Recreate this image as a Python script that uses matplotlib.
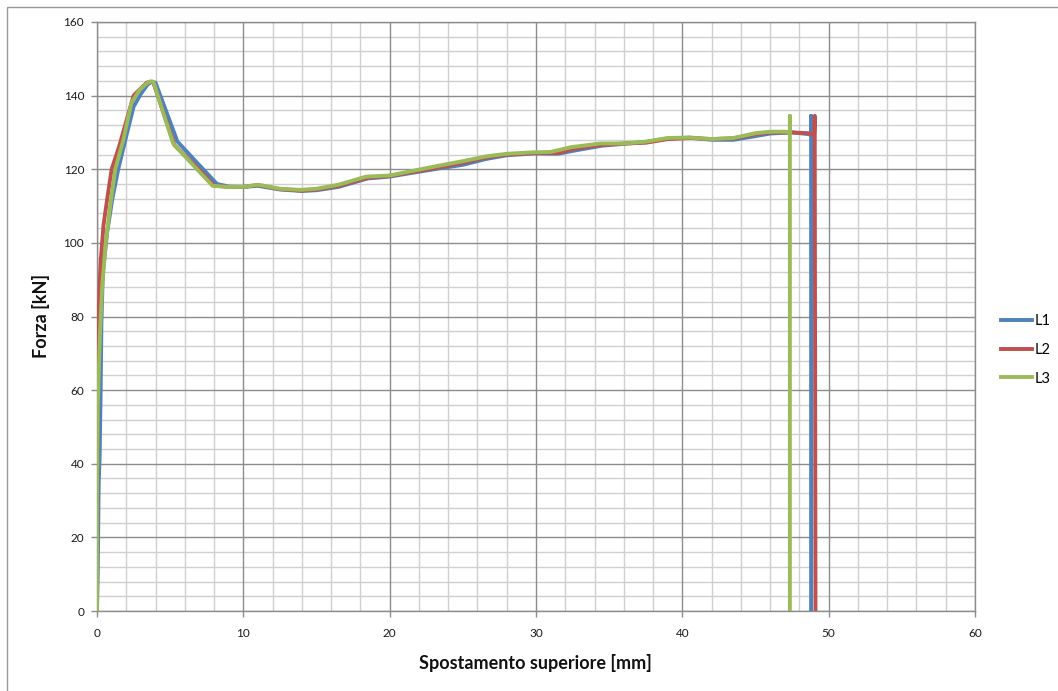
import matplotlib
matplotlib.use("Agg")
import matplotlib.pyplot as plt
from matplotlib.patches import Rectangle
from matplotlib.lines import Line2D

plt.rcParams['font.family'] = ['Lato', 'DejaVu Sans']

# Displacement [mm] / force [kN] curves
l1_x = [0, 0.05, 0.1, 0.12, 0.18, 0.25, 0.3, 0.4, 0.7, 1.05, 1.45, 2.0, 2.5, 3.0, 3.45, 3.75, 4.0,
        5.5, 6.9, 8.2, 9.0, 10.0, 11.0, 12.5, 14.0, 15.0, 16.5, 18.5, 20.0, 21.5, 23.5, 25.0,
        26.6, 28.0, 29.9, 31.5, 32.8, 34.5, 36.0, 37.5, 39.0, 40.5, 42.0, 43.5, 45.0, 46.0,
        47.5, 48.5, 48.8, 48.8, 48.8]
l1_y = [0, 10, 30, 35, 42, 60, 78, 92, 103, 112, 120, 129, 137, 140.5, 143, 143.8, 143.5,
        127.5, 121.5, 116, 115.3, 115.2, 115.5, 114.5, 114.1, 114.3, 115.2, 117.5, 118.0, 119.0,
        120.3, 121.2, 122.8, 123.8, 124.3, 124.2, 125.2, 126.4, 126.9, 127.4, 128.3, 128.6,
        128.0, 128.0, 129.0, 129.7, 130.0, 129.6, 129.4, 134.5, 0]

l2_x = [0, 0.02, 0.05, 0.1, 0.25, 0.45, 0.7, 1.0, 1.5, 2.0, 2.5, 3.0, 3.4, 3.65, 3.85,
        5.3, 6.7, 8.0, 9.0, 10.0, 11.0, 12.5, 14.0, 15.0, 16.5, 18.5, 20.0, 21.5, 23.5, 25.0,
        26.6, 28.0, 29.9, 31.5, 32.6, 34.5, 36.0, 37.5, 39.0, 40.5, 42.0, 43.5, 45.0, 46.0,
        47.5, 48.6, 49.0, 49.05, 49.05, 49.1]
l2_y = [0, 40, 62, 80, 95, 105, 112, 120, 126, 133, 140, 142, 143.5, 143.8, 143.5,
        126.5, 121, 115.6, 115.2, 115.2, 115.7, 114.6, 114.2, 114.5, 115.5, 117.7, 118.2, 119.2,
        120.6, 121.8, 123.2, 124.0, 124.4, 124.4, 125.6, 126.6, 127.0, 127.2, 128.2, 128.5,
        128.2, 128.4, 129.5, 130.0, 130.0, 129.8, 129.3, 134.5, 125.5, 0]

l3_x = [0, 0.0, 0.05, 0.1, 0.2, 0.35, 0.6, 0.9, 1.25, 1.8, 2.35, 2.9, 3.3, 3.6, 3.85,
        5.2, 6.6, 7.9, 9.0, 10.0, 11.0, 12.5, 13.9, 15.0, 16.5, 18.4, 20.0, 21.5, 23.4, 25.0,
        26.6, 28.0, 29.8, 31.0, 32.4, 34.4, 36.0, 37.5, 39.0, 40.5, 42.0, 43.5, 45.0, 46.0,
        47.0, 47.35, 47.35, 47.35]
l3_y = [0, 30, 55, 62, 75, 88, 100, 110, 120, 128, 138, 141.5, 143, 143.8, 143.8,
        127, 121, 115.5, 115.2, 115.2, 115.8, 114.7, 114.4, 114.7, 115.8, 118.0, 118.3, 119.5,
        121.0, 122.2, 123.5, 124.2, 124.6, 124.7, 126.0, 127.0, 127.0, 127.5, 128.5, 128.6,
        128.2, 128.5, 129.8, 130.2, 130.2, 130.0, 134.5, 0]

series_names = ['L1', 'L2', 'L3']
series_colors = ['#4F81BD', '#C0504D', '#9BBB59']

x_ticks = [0, 10, 20, 30, 40, 50, 60]
y_ticks = [0, 20, 40, 60, 80, 100, 120, 140, 160]
x_label = 'Spostamento superiore [mm]'
y_label = 'Forza [kN]'

W, H = 1058, 691
fig = plt.figure(figsize=(W / 100, H / 100), dpi=100)
fig.patch.set_facecolor('white')

# chart-area frame
fig.patches.append(Rectangle((7 / W, -0.01), 1.02, (H - 7) / H + 0.01,
                             transform=fig.transFigure, fill=False,
                             edgecolor='#9a9a9a', linewidth=1.0))

ax = fig.add_axes([97 / W, 1 - 611 / H, (975 - 97) / W, (611 - 22) / H])
ax.set_xlim(0, 60)
ax.set_ylim(0, 160)

# grid: minor every 2 mm / 4 kN, major every 10 mm / 20 kN
for v in range(0, 61, 2):
    if v % 10:
        ax.axvline(v, color='#d0d0d0', linewidth=1.0, zorder=0)
for v in range(0, 161, 4):
    if v % 20:
        ax.axhline(v, color='#d0d0d0', linewidth=1.0, zorder=0)
for v in x_ticks:
    ax.axvline(v, color='#8c8c8c', linewidth=1.0, zorder=0.5)
for v in y_ticks:
    ax.axhline(v, color='#8c8c8c', linewidth=1.0, zorder=0.5)

for sp in ax.spines.values():
    sp.set_color('#8c8c8c')
    sp.set_linewidth(1.0)

for xs, ys, name, c in zip([l1_x, l2_x, l3_x], [l1_y, l2_y, l3_y], series_names, series_colors):
    ax.plot(xs, ys, color=c, linewidth=2.8, label=name, solid_joinstyle='round', zorder=3)

ax.set_xticks(x_ticks)
ax.set_yticks(y_ticks)
ax.tick_params(axis='both', direction='out', length=4.3, width=1.0, color='#8c8c8c',
               labelsize=8.5, labelcolor='#1a1a1a')
ax.tick_params(axis='x', pad=8)
ax.tick_params(axis='y', pad=5)

fig.text(535 / W, 1 - 663 / H, x_label, ha='center', va='center',
         fontsize=13, fontweight='bold', color='#111111')
fig.text(41 / W, 1 - 316 / H, y_label, ha='center', va='center', rotation=90,
         fontsize=13, fontweight='bold', color='#111111')

handles = [Line2D([0], [0], color=c, linewidth=2.8) for c in series_colors]
fig.legend(handles, series_names, loc='center left', bbox_to_anchor=(1001 / W, 1 - 350 / H),
           frameon=False, fontsize=10.5, handlelength=2.1, handletextpad=0.2,
           labelspacing=1.0, borderaxespad=0, borderpad=0)

fig.savefig('out.png', dpi=100)
